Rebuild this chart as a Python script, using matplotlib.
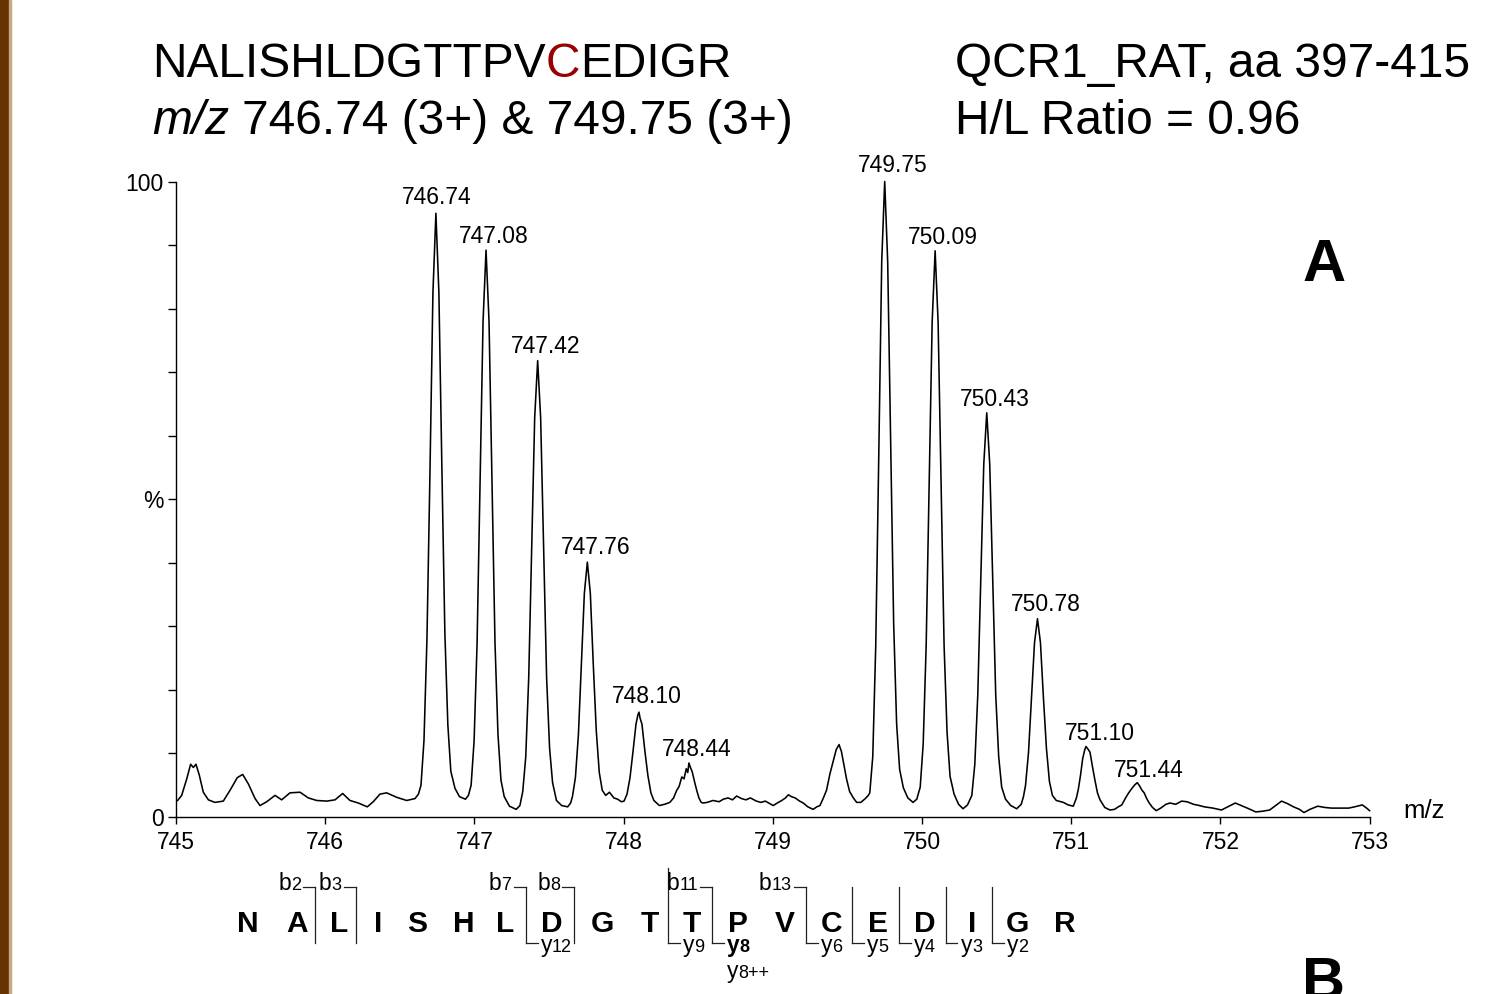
import matplotlib
matplotlib.use("Agg")
import matplotlib.pyplot as plt
from matplotlib.patches import Rectangle
from matplotlib.lines import Line2D

plt.rcParams['font.family'] = ['Liberation Sans', 'DejaVu Sans']

W, H = 1486, 994

# Titres
peptide = "NALISHLDGTTPVCEDIGR"
labeled_pos = 13  # cystéine marquée (en rouge)
protein_text = "QCR1_RAT, aa 397-415"
ratio_text = "H/L Ratio = 0.96"
precursor_text = "746.74 (3+) & 749.75 (3+)"

# Spectre (m/z, % intensité)
trace_mz = [
    745.011, 745.038, 745.072, 745.098, 745.116, 745.134, 745.156, 745.183, 745.217, 745.261,
    745.317, 745.362, 745.411, 745.447, 745.485, 745.530, 745.563, 745.608, 745.664, 745.708,
    745.764, 745.831, 745.887, 745.943, 746.010, 746.066, 746.117, 746.166, 746.222, 746.282,
    746.322, 746.367, 746.412, 746.479, 746.546, 746.602, 746.625,
    746.642, 746.662, 746.682, 746.702, 746.722, 746.742, 746.762, 746.782, 746.802, 746.822,
    746.842, 746.870, 746.900, 746.940, 746.960,
    746.978, 746.998, 747.018, 747.038, 747.058, 747.078, 747.098, 747.118, 747.138, 747.158,
    747.178, 747.200, 747.235, 747.280, 747.305,
    747.324, 747.344, 747.364, 747.384, 747.404, 747.424, 747.444, 747.464, 747.484, 747.504,
    747.524, 747.550, 747.585, 747.625, 747.645,
    747.657, 747.677, 747.697, 747.717, 747.737, 747.757, 747.777, 747.797, 747.817, 747.837,
    747.857, 747.880, 747.905, 747.935, 747.960, 747.985,
    748.003, 748.023, 748.043, 748.063, 748.083, 748.095, 748.103, 748.110, 748.123, 748.143,
    748.163, 748.183, 748.203, 748.240, 748.275, 748.310, 748.335,
    748.356, 748.372, 748.390, 748.405, 748.420, 748.430, 748.438, 748.448, 748.460, 748.475,
    748.490, 748.505, 748.520, 748.534,
    748.560, 748.600, 748.640, 748.668, 748.700, 748.730, 748.758, 748.790, 748.820, 748.850,
    748.890, 748.920, 748.950, 748.980, 749.003, 749.030, 749.060, 749.085, 749.104, 749.125,
    749.150, 749.180, 749.204, 749.235, 749.270, 749.295, 749.316, 749.339,
    749.360, 749.383, 749.405, 749.425, 749.444, 749.460, 749.478, 749.495, 749.515, 749.540,
    749.562, 749.590, 749.620, 749.640,
    749.650, 749.670, 749.690, 749.710, 749.730, 749.750, 749.770, 749.790, 749.810, 749.830,
    749.850, 749.875, 749.905, 749.940, 749.965,
    749.988, 750.008, 750.028, 750.048, 750.068, 750.088, 750.108, 750.128, 750.148, 750.168,
    750.188, 750.215, 750.245, 750.275, 750.305,
    750.334, 750.354, 750.374, 750.394, 750.414, 750.434, 750.454, 750.474, 750.494, 750.514,
    750.534, 750.560, 750.595, 750.635, 750.665,
    750.680, 750.694, 750.714, 750.734, 750.754, 750.774, 750.794, 750.814, 750.834, 750.854,
    750.874, 750.900, 750.947, 750.980, 751.014,
    751.035, 751.048, 751.062, 751.077, 751.090, 751.099, 751.112, 751.126, 751.142, 751.159,
    751.176, 751.193, 751.225, 751.260, 751.290,
    751.316, 751.339, 751.362, 751.385, 751.410, 751.428, 751.443, 751.458, 751.475, 751.489,
    751.506, 751.523, 751.545, 751.570, 751.600, 751.635, 751.662, 751.700, 751.740, 751.776,
    751.820, 751.860, 751.892, 751.950, 752.007, 752.050, 752.100, 752.140, 752.190, 752.237,
    752.280, 752.330, 752.370, 752.410, 752.450, 752.490, 752.530, 752.560, 752.600, 752.652,
    752.700, 752.744, 752.800, 752.859, 752.900, 752.951, 752.980, 753.000,
]
trace_pct = [
    2.6, 3.4, 6.0, 8.3, 7.8, 8.3, 6.6, 3.9, 2.7, 2.3,
    2.5, 4.2, 6.2, 6.7, 5.2, 2.9, 1.8, 2.4, 3.4, 2.7,
    3.8, 3.9, 3.0, 2.6, 2.5, 2.7, 3.7, 2.6, 2.2, 1.6,
    2.4, 3.6, 3.8, 3.1, 2.6, 2.9, 3.6,
    5.0, 12.0, 28.0, 54.0, 82.5, 95.0, 82.5, 55.0, 29.0, 14.5,
    7.2, 4.5, 3.2, 2.8, 3.4,
    5.0, 12.0, 27.4, 52.4, 78.0, 89.2, 78.0, 52.4, 27.4, 13.0,
    5.8, 3.2, 1.7, 1.2, 1.8,
    4.0, 9.4, 21.9, 42.0, 62.8, 71.8, 62.8, 42.0, 21.9, 10.8,
    5.4, 2.6, 1.8, 1.6, 2.2,
    3.2, 6.2, 12.9, 23.9, 35.2, 40.1, 35.2, 23.9, 13.5, 7.0,
    4.2, 3.4, 3.9, 3.0, 2.8, 2.4,
    2.5, 3.6, 6.2, 10.3, 14.6, 16.0, 16.5, 15.6, 14.6, 10.3,
    6.5, 3.8, 2.6, 1.8, 2.0, 2.3, 3.0,
    4.2, 4.8, 6.3, 6.0, 7.6, 7.0, 8.5, 7.8, 7.1, 5.6,
    4.2, 3.0, 2.3, 2.2,
    2.3, 2.6, 2.4, 2.8, 3.0, 2.7, 3.3, 2.9, 2.7, 3.0,
    2.5, 2.3, 2.5, 2.1, 1.8, 2.2, 2.6, 3.0, 3.5, 3.2,
    3.0, 2.5, 2.2, 1.6, 1.2, 1.6, 1.8, 3.0,
    4.2, 6.8, 8.8, 10.6, 11.4, 10.3, 8.0, 5.9, 4.0, 3.0,
    2.3, 2.3, 2.9, 3.4,
    3.8, 9.5, 27.0, 56.5, 87.4, 100.0, 87.4, 58.5, 30.5, 14.6,
    7.5, 4.6, 3.0, 2.3, 2.8,
    4.7, 11.5, 27.0, 52.0, 77.8, 89.1, 77.8, 52.0, 27.0, 13.3,
    6.4, 3.6, 2.0, 1.3, 1.9,
    3.4, 8.3, 19.3, 37.2, 55.5, 63.6, 55.5, 37.2, 19.3, 9.5,
    4.7, 2.8, 1.8, 1.3, 2.0,
    3.2, 5.0, 10.2, 18.7, 27.4, 31.2, 27.4, 18.7, 10.8, 5.6,
    3.4, 2.6, 2.3, 1.9, 1.7,
    3.0, 4.4, 6.5, 9.2, 10.5, 11.1, 10.7, 10.2, 8.0, 5.8,
    3.8, 2.7, 1.5, 1.1, 1.2,
    1.6, 1.9, 2.9, 3.8, 4.6, 5.1, 5.4, 4.9, 4.2, 3.8,
    2.9, 2.2, 1.5, 1.0, 1.4, 2.0, 2.2, 2.0, 2.5, 2.4,
    2.0, 1.8, 1.6, 1.4, 1.1, 1.6, 2.2, 1.8, 1.3, 0.8,
    0.9, 1.1, 1.8, 2.5, 2.1, 1.6, 1.2, 0.7, 1.2, 1.7,
    1.5, 1.4, 1.4, 1.4, 1.6, 1.9, 1.4, 1.0,
]

# Pics annotés
peak_labels = ["746.74", "747.08", "747.42", "747.76", "748.10", "748.44",
               "749.75", "750.09", "750.43", "750.78", "751.10", "751.44"]
peak_mz = [746.742, 747.078, 747.424, 747.757, 748.103, 748.438,
           749.750, 750.088, 750.434, 750.774, 751.099, 751.443]
peak_pct = [95.0, 89.2, 71.8, 40.1, 16.5, 8.5, 100.0, 89.1, 63.6, 31.2, 11.1, 5.4]

x_ticks = [745, 746, 747, 748, 749, 750, 751, 752, 753]
y_ticks = [0, 10, 20, 30, 40, 50, 60, 70, 80, 90, 100]
y_ticklabels = ["0", "", "", "", "", "%", "", "", "", "", "100"]

# Ions de fragmentation (MS/MS)
b_ions = [2, 3, 7, 8, 11, 13]
y_ions = [12, 9, 8, 6, 5, 4, 3, 2]
y_bold = [8]
y_extra = {8: "8++"}


def fx(px):
    return px / W


def fy(py):
    return 1 - py / H


fig = plt.figure(figsize=(W / 100, H / 100), dpi=100)
renderer = fig.canvas.get_renderer()

# bande marron à gauche
fig.patches.append(Rectangle((0, 0), fx(9), 1, transform=fig.transFigure,
                             color="#663300", zorder=0))
fig.patches.append(Rectangle((fx(9), 0), fx(1.5), 1, transform=fig.transFigure,
                             color="#c8a882", zorder=0))


def draw_runs(x_px, y_px, runs, size, ha="left"):
    """Texte en plusieurs morceaux (couleur / style différents) sur une même ligne."""
    texts = []
    x = x_px
    for s, kw in runs:
        if s == " ":
            x += size * 0.278 * 100 / 72
            continue
        opts = {"fontsize": size, "va": "baseline", "ha": "left"}
        opts.update(kw)
        t = fig.text(fx(x), fy(y_px), s, **opts)
        bb = t.get_window_extent(renderer)
        x = bb.x1
        texts.append(t)
    if ha == "right":
        shift = x - x_px
        for t in texts:
            px, py = t.get_position()
            t.set_position((px - fx(shift), py))
    return texts


# titres
title_size = 34.5
draw_runs(152, 77, [(peptide[:labeled_pos], {}),
                    (peptide[labeled_pos], {"color": "#990000"}),
                    (peptide[labeled_pos + 1:], {})], title_size)
draw_runs(152, 134, [("m/z", {"style": "italic"}), (" ", {}),
                     (precursor_text, {})], title_size)
fig.text(fx(955), fy(77), protein_text, fontsize=title_size, va="baseline")
fig.text(fx(955), fy(134), ratio_text, fontsize=title_size, va="baseline")

# axes du spectre
ax = fig.add_axes([fx(176), fy(817), fx(1369.6) - fx(176), fy(181.5) - fy(817)])
ax.plot(trace_mz, trace_pct, color="black", lw=1.15, clip_on=False)
ax.set_xlim(745, 753)
ax.set_ylim(0, 100)
for side in ["top", "right"]:
    ax.spines[side].set_visible(False)
for side in ["left", "bottom"]:
    ax.spines[side].set_linewidth(1.0)
ax.set_xticks(x_ticks)
ax.set_xticklabels([str(v) for v in x_ticks])
ax.set_yticks(y_ticks)
ax.set_yticklabels(y_ticklabels)
ax.tick_params(axis="x", length=5, width=1, pad=5, labelsize=16.5)
ax.tick_params(axis="y", length=6, width=1, pad=3, labelsize=16.5)

label_dx = [1, 8, 8, 8, 8, 8, 8, 8, 8, 8, 14, 11]
label_dy = [9, 7, 8, 8, 9, 7, 10, 7, 7, 8, 6, 6]
for lab, m, p, dx, dy in zip(peak_labels, peak_mz, peak_pct, label_dx, label_dy):
    ax.annotate(lab, (m, p), xytext=(dx * 0.72, dy * 0.72), textcoords="offset points",
                ha="center", va="baseline", fontsize=16.5, annotation_clip=False)

fig.text(fx(1403), fy(818), "m/z", fontsize=18.5, va="baseline")
fig.text(fx(1324), fy(281), "A", fontsize=43, fontweight="bold", ha="center", va="baseline")
fig.text(fx(1324), fy(999), "B", fontsize=43, fontweight="bold", ha="center", va="baseline")

# séquence et fragments
letter_x = [248, 297, 339, 378, 417, 464, 505, 552, 602, 650,
            692, 738, 785, 832, 878, 925, 972, 1017, 1065]
for ch, x in zip(peptide, letter_x):
    fig.text(fx(x), fy(931.5), ch, fontsize=21.5, fontweight="bold", ha="center", va="baseline")

n_res = len(peptide)
splits = sorted(set(b_ions) | set(n_res - n for n in y_ions))
line_kw = dict(color="#222222", lw=0.9, transform=fig.transFigure)
for s in splits:
    xs = (letter_x[s - 1] + letter_x[s]) / 2 - 3
    has_b = s in b_ions
    yn = n_res - s
    has_y = yn in y_ions
    top = 887 if (has_b or yn != 9) else 868
    fig.lines.append(Line2D([fx(xs), fx(xs)], [fy(top), fy(943)], **line_kw))
    if has_b:
        fig.lines.append(Line2D([fx(xs - 12), fx(xs)], [fy(887), fy(887)], **line_kw))
        draw_runs(xs - 14, 890, [("b", {}), (str(s), {"fontsize": 13})], 16.5, ha="right")
    if has_y:
        fig.lines.append(Line2D([fx(xs), fx(xs + 12)], [fy(943), fy(943)], **line_kw))
        w = {"fontweight": "bold"} if yn in y_bold else {}
        draw_runs(xs + 15, 952, [("y", w), (str(yn), dict(fontsize=13, **w))], 16.5)
        if yn in y_extra:
            draw_runs(xs + 15, 978, [("y", {}), (y_extra[yn], {"fontsize": 13})], 16.5)

fig.savefig("out.png", dpi=100)
